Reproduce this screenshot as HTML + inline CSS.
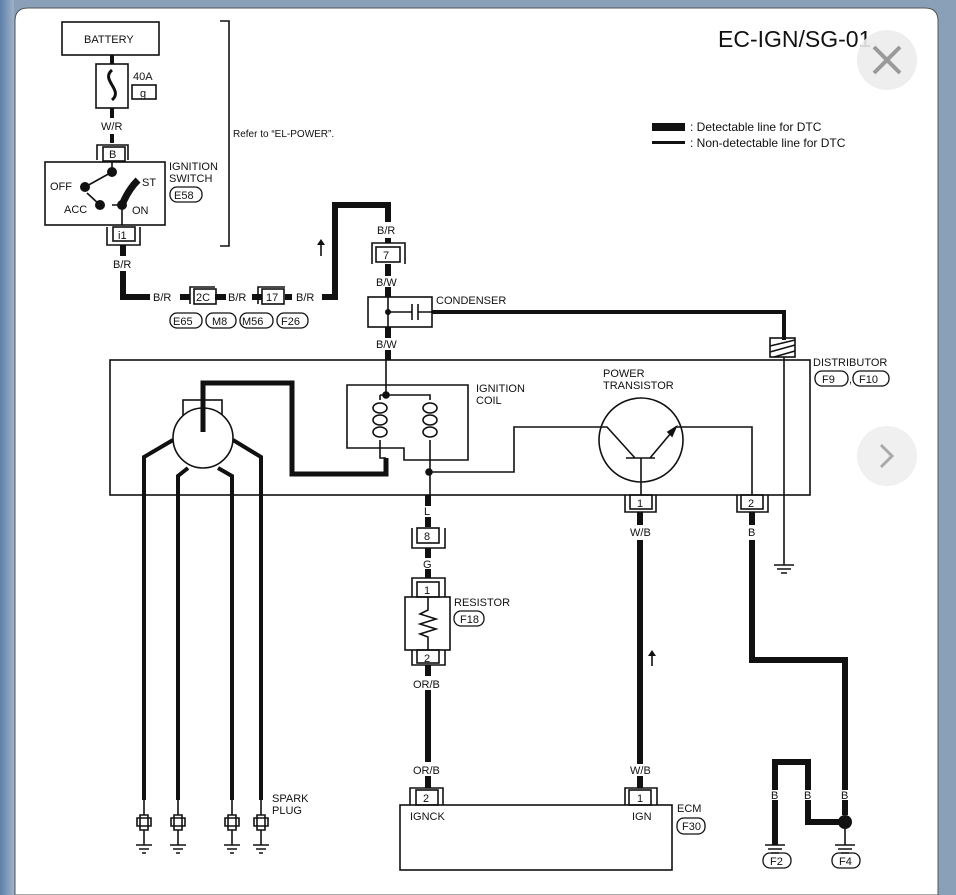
<!DOCTYPE html>
<html><head><meta charset="utf-8"><style>
html,body{margin:0;padding:0;width:956px;height:895px;overflow:hidden;background:#7f97b3;}
svg{display:block}
text{font-family:"Liberation Sans",sans-serif;fill:#111}
</style></head><body>
<svg width="956" height="895" viewBox="0 0 956 895" xmlns="http://www.w3.org/2000/svg">
<defs><linearGradient id="bg" x1="0" x2="1"><stop offset="0" stop-color="#5d7fa8"/><stop offset="1" stop-color="#9fb2c8"/></linearGradient></defs>
<rect width="956" height="895" fill="#8aa0b8"/>
<rect x="0" y="0" width="14" height="895" fill="url(#bg)"/>
<path d="M28 8 H925 Q938 8 938 21 V895 H15 V21 Q15 8 28 8Z" fill="#fff" stroke="#555" stroke-width="1"/>
<g fill="none" stroke="#111" stroke-width="1.6">
<rect x="62" y="22" width="97" height="33"/>
<rect x="96" y="64" width="32" height="44"/>
<path d="M112 55V64M112 108V118M112 134V143" stroke-width="4"/>
<path d="M112 70 C100 80 124 90 112 100" stroke-width="3"/>
<rect x="132" y="85" width="24" height="14"/>
<rect x="103" y="147" width="22" height="14"/><path d="M97 160V145H128V160"/>
<rect x="45" y="162" width="120" height="63"/>
<path d="M112 162V172L85 187M87 193L100 205M112 205L122 205M122 205V225"/>
<path d="M122 205 Q128 190 138 180" stroke-width="7"/>
<rect x="113" y="227" width="22" height="14"/><path d="M107 227V245H140V227"/>
<path d="M220 21H229V246H220"/>
<g stroke-width="6">
<path d="M123 245V256M123 271V297H150"/>
<path d="M180 297H190M215 297H226M252 297H262M285 297H292M322 297H335V205H388V222"/>
<path d="M388 238V243M388 264V276M388 287V297M388 327V338M388 350V360"/>
<path d="M428 495V506M428 517V527M428 548V558M428 569V578M428 665V676M428 690V762M428 776V788"/>
<path d="M640 512V525M640 540V764M640 776V788"/>
<path d="M752 512V525M752 540V660H845V790M845 800V815"/>
<path d="M775 800V845M775 790V762H808V790M808 800V822H840"/>
</g>
<rect x="194" y="289" width="22" height="15"/><path d="M190 304V287H215"/>
<rect x="262" y="289" width="22" height="15"/><path d="M258 304V287H285"/>
<rect x="376" y="247" width="24" height="15"/><path d="M372 264V243H405V264"/>
<rect x="368" y="297" width="64" height="30"/>
<path d="M388 297V327M388 312H412M412 304V320M418 304V320M418 312H432"/>
<path d="M432 312H784V340" stroke-width="4"/>
<rect x="770" y="338" width="25" height="19"/>
<path d="M770 346L795 340M770 352L795 345M774 357L795 351"/>
<rect x="110" y="360" width="700" height="135"/>
<path d="M784 357V565M774 565H794M777 569H791M781 573H787"/>
<rect x="183" y="400" width="39" height="22"/>
<circle cx="203" cy="438" r="30" fill="#fff"/>
<path d="M203 432V383H292V474H386V458" stroke-width="5"/>
<path d="M173 440L144 457V800M188 468L178 476V800M218 468L232 476V800M233 440L261 457V800" stroke-width="4"/>
<path d="M347 385H468V460H404V448H347Z"/>
<path d="M386 360V395M386 395H380M386 395H430V400M380 400V395M380 440V458H386"/>
<path d="M430 440V495M428 472H514V427H607L635 458M626 458H655M641 458V495M650 458L676 427H752V495"/>
<circle cx="386" cy="395" r="3" fill="#111"/><circle cx="429" cy="472" r="3" fill="#111"/>
<ellipse cx="380" cy="408" rx="7" ry="5"/><ellipse cx="380" cy="420" rx="7" ry="5"/><ellipse cx="380" cy="432" rx="7" ry="5"/>
<ellipse cx="430" cy="408" rx="7" ry="5"/><ellipse cx="430" cy="420" rx="7" ry="5"/><ellipse cx="430" cy="432" rx="7" ry="5"/>
<circle cx="641" cy="440" r="42"/>
<path d="M668 432L676 427L672 436Z" fill="#111"/>
<rect x="630" y="495" width="22" height="14"/><path d="M625 495V512H656V495"/>
<rect x="741" y="495" width="22" height="14"/><path d="M737 495V512H768V495"/>
<rect x="417" y="528" width="22" height="15"/><path d="M412 528V548H445V528"/>
<rect x="417" y="582" width="22" height="15"/><path d="M412 597V578H445V597"/>
<rect x="405" y="597" width="45" height="53"/>
<path d="M428 597V610L420 614L436 619L420 624L436 629L420 634L428 637V650"/>
<rect x="417" y="650" width="22" height="13"/><path d="M412 650V665H445V650"/>
<rect x="416" y="790" width="22" height="15"/><path d="M410 805V788H443V805"/>
<rect x="629" y="790" width="22" height="15"/><path d="M625 805V788H657V805"/>
<rect x="400" y="805" width="272" height="65"/>
<path d="M765 845H785M768 849H782M771 853H779M835 845H855M838 849H852M841 853H849M845 828V845"/>
<g id="p"><path d="M144 800V815M140 815H148V830H140ZM137 818H151V826H137ZM144 830V845M136 845H152M139 849H149M142 853H146"/></g>
<use href="#p" x="34"/><use href="#p" x="88"/><use href="#p" x="117"/>
<path d="M321 256V242M652 666V652"/>
</g>
<g fill="#111">
<circle cx="112" cy="172" r="5"/><circle cx="85" cy="187" r="5"/><circle cx="100" cy="205" r="5"/><circle cx="122" cy="205" r="5"/>
<circle cx="845" cy="822" r="7"/><circle cx="388" cy="312" r="3"/>
<path d="M317 245L321 239L325 245Z"/><path d="M648 656L652 650L656 656Z"/>
<rect x="652" y="123" width="33" height="8"/><rect x="652" y="141" width="33" height="3"/>
</g>
<g fill="none" stroke="#111" stroke-width="1.3">
<rect x="170" y="313" width="32" height="15" rx="7"/><rect x="206" y="313" width="30" height="15" rx="7"/>
<rect x="240" y="313" width="33" height="15" rx="7"/><rect x="277" y="313" width="31" height="15" rx="7"/>
<rect x="170" y="187" width="32" height="15" rx="7"/><rect x="454" y="611" width="30" height="15" rx="7"/>
<rect x="815" y="371" width="33" height="15" rx="7"/><rect x="853" y="371" width="36" height="15" rx="7"/>
<rect x="677" y="818" width="28" height="16" rx="7"/>
<rect x="763" y="853" width="28" height="15" rx="7"/><rect x="832" y="853" width="28" height="15" rx="7"/>
</g>
<g font-size="11">
<text x="84" y="43">BATTERY</text><text x="133" y="80">40A</text><text x="140" y="97">g</text>
<text x="101" y="130">W/R</text><text x="109" y="158">B</text>
<text x="169" y="170">IGNITION</text><text x="169" y="182">SWITCH</text><text x="174" y="199">E58</text>
<text x="50" y="190">OFF</text><text x="64" y="213">ACC</text><text x="142" y="186">ST</text><text x="132" y="214">ON</text>
<text x="118" y="239">i1</text><text x="113" y="268">B/R</text>
<text x="233" y="137" font-size="10">Refer to “EL-POWER”.</text>
<text x="153" y="301">B/R</text><text x="196" y="301">2C</text><text x="228" y="301">B/R</text><text x="266" y="301">17</text><text x="296" y="301">B/R</text>
<text x="173" y="325">E65</text><text x="212" y="325">M8</text><text x="242" y="325">M56</text><text x="281" y="325">F26</text>
<text x="377" y="234">B/R</text><text x="383" y="259">7</text><text x="376" y="286">B/W</text><text x="436" y="304">CONDENSER</text><text x="376" y="348">B/W</text>
<text x="476" y="392">IGNITION</text><text x="476" y="404">COIL</text>
<text x="603" y="377">POWER</text><text x="603" y="389">TRANSISTOR</text>
<text x="813" y="366">DISTRIBUTOR</text><text x="822" y="383">F9</text><text x="849" y="383">,</text><text x="859" y="383">F10</text>
<text x="690" y="131" font-size="12">: Detectable line for DTC</text><text x="690" y="147" font-size="12">: Non-detectable line for DTC</text>
<text x="637" y="507">1</text><text x="748" y="507">2</text><text x="630" y="536">W/B</text><text x="748" y="536">B</text>
<text x="424" y="515">L</text><text x="424" y="540">8</text><text x="423" y="568">G</text><text x="424" y="594">1</text>
<text x="454" y="606">RESISTOR</text><text x="460" y="623">F18</text><text x="424" y="662">2</text>
<text x="413" y="688">OR/B</text><text x="413" y="774">OR/B</text><text x="423" y="802">2</text>
<text x="630" y="774">W/B</text><text x="637" y="802">1</text>
<text x="410" y="820">IGNCK</text><text x="632" y="820">IGN</text><text x="677" y="812">ECM</text><text x="682" y="830">F30</text>
<text x="272" y="802">SPARK</text><text x="272" y="814">PLUG</text>
<text x="771" y="799">B</text><text x="804" y="799">B</text><text x="841" y="799">B</text>
<text x="770" y="865">F2</text><text x="839" y="865">F4</text>
</g>
<text x="718" y="47" font-size="23">EC-IGN/SG-01</text>
<circle cx="887" cy="60" r="30" fill="#ececec" opacity="0.9"/>
<path d="M874 47L900 73M900 47L874 73" stroke="#9a9a9a" stroke-width="4"/>
<circle cx="887" cy="456" r="30" fill="#f0f0f0"/>
<path d="M881 445L892 456L881 467" fill="none" stroke="#aaa" stroke-width="3"/>
</svg>
</body></html>
